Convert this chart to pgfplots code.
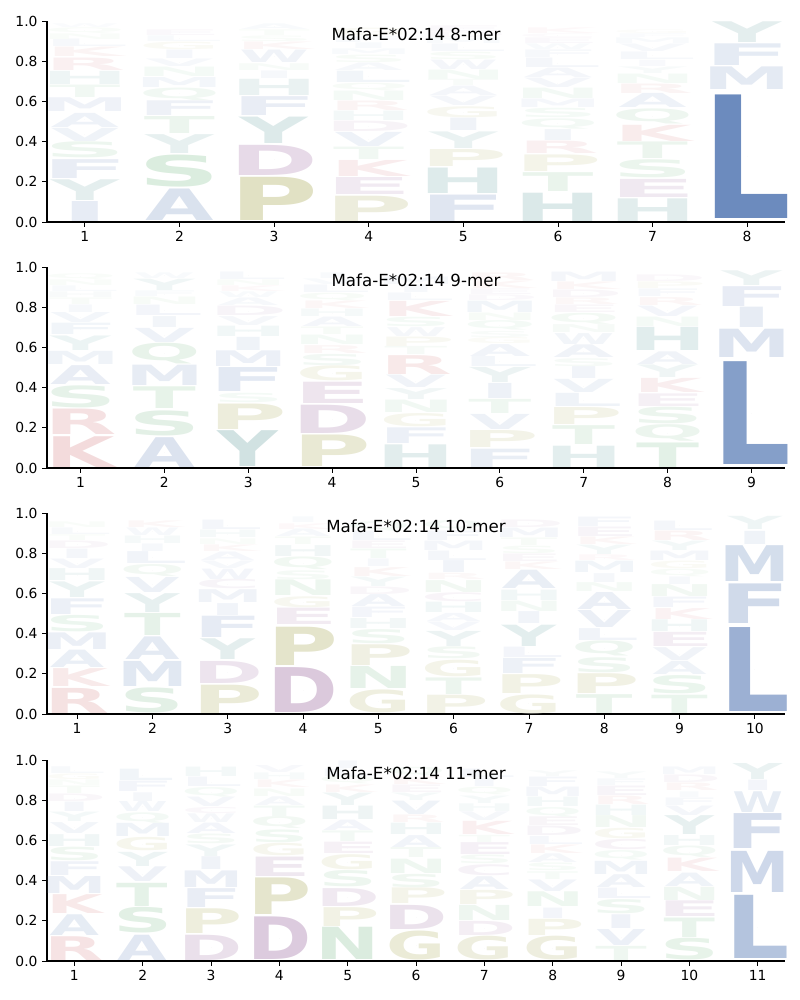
\documentclass[border=0pt]{standalone}
\usepackage{fontspec}
\setmainfont{DejaVu Sans}
\usepackage{graphicx}
\usepackage{pgfplots}
\usepackage{pgfplotstable}
\pgfplotsset{compat=1.18}

\definecolor{cblue}{RGB}{76,114,176}
\definecolor{cgreen}{RGB}{85,168,104}
\definecolor{cred}{RGB}{196,78,82}
\definecolor{cpurple}{RGB}{132,72,138}
\definecolor{colive}{RGB}{150,150,50}
\definecolor{cteal}{RGB}{60,135,135}
\colorlet{cA}{cblue}\colorlet{cF}{cblue}\colorlet{cI}{cblue}\colorlet{cL}{cblue}
\colorlet{cM}{cblue}\colorlet{cV}{cblue}\colorlet{cW}{cblue}
\colorlet{cS}{cgreen}\colorlet{cT}{cgreen}\colorlet{cN}{cgreen}\colorlet{cQ}{cgreen}
\colorlet{cK}{cred}\colorlet{cR}{cred}
\colorlet{cD}{cpurple}\colorlet{cE}{cpurple}\colorlet{cC}{cpurple}
\colorlet{cP}{colive}\colorlet{cG}{colive}
\colorlet{cH}{cteal}\colorlet{cY}{cteal}
% width factor per letter, so that every glyph's ink fills about the same width
\def\gwI{0.58}\def\gwA{0.77}\def\gwV{0.77}\def\gwY{0.77}\def\gwW{0.78}\def\gwT{0.8}
\def\gwK{0.88}\def\gwR{0.92}\def\gwS{0.92}\def\gwG{0.92}\def\gwC{0.93}\def\gwQ{0.92}

\newlength\glw
\newlength\axh \setlength\axh{141.5pt}
\newlength\gtmp
\makeatletter
\newcommand\glyph[1]{%
  \edef\gl{#1}%
  \setlength\gtmp{\lgh pt}%
  \setlength\gtmp{125\gtmp}%
  \ifdim\gtmp>100pt \setlength\gtmp{100pt}\fi
  \edef\opc{\strip@pt\gtmp}%
  \color{c\gl!\opc!white}%
  \ifcsname gw\gl\endcsname\edef\gwf{\csname gw\gl\endcsname}\else\def\gwf{1}\fi
  \resizebox*{\gwf\glw}{\lgh\axh}{\bfseries\gl}}
\makeatother

% columns: position, start flag, letter, height (stacked bottom to top)
\pgfplotstableread[row sep=\\]{
x s l h\\
1 1 I 0.106\\ 1 0 Y 0.11\\ 1 0 F 0.10\\ 1 0 S 0.085\\ 1 0 V 0.07\\ 1 0 A 0.075\\ 1 0 M 0.073\\ 1 0 T 0.066\\ 1 0 H 0.07\\ 1 0 R 0.066\\ 1 0 K 0.05\\ 1 0 L 0.04\\ 1 0 N 0.03\\ 1 0 Q 0.03\\ 1 0 W 0.02\\
2 1 A 0.167\\ 2 0 S 0.17\\ 2 0 Y 0.10\\ 2 0 T 0.09\\ 2 0 F 0.078\\ 2 0 Q 0.066\\ 2 0 M 0.053\\ 2 0 N 0.05\\ 2 0 V 0.04\\ 2 0 I 0.045\\ 2 0 G 0.04\\ 2 0 L 0.03\\ 2 0 E 0.03\\
3 1 P 0.229\\ 3 0 D 0.16\\ 3 0 Y 0.14\\ 3 0 F 0.10\\ 3 0 H 0.086\\ 3 0 I 0.04\\ 3 0 N 0.036\\ 3 0 W 0.066\\ 3 0 K 0.04\\ 3 0 S 0.03\\ 3 0 T 0.03\\ 3 0 A 0.03\\
4 1 P 0.134\\ 4 0 E 0.09\\ 4 0 K 0.085\\ 4 0 T 0.066\\ 4 0 V 0.075\\ 4 0 D 0.055\\ 4 0 H 0.05\\ 4 0 R 0.05\\ 4 0 N 0.05\\ 4 0 Q 0.04\\ 4 0 L 0.06\\ 4 0 A 0.04\\ 4 0 S 0.04\\ 4 0 M 0.03\\ 4 0 I 0.03\\ 4 0 F 0.03\\ 4 0 G 0.04\\
5 1 F 0.14\\ 5 0 H 0.135\\ 5 0 P 0.09\\ 5 0 Y 0.088\\ 5 0 I 0.066\\ 5 0 G 0.058\\ 5 0 V 0.05\\ 5 0 A 0.05\\ 5 0 T 0.033\\ 5 0 N 0.05\\ 5 0 W 0.05\\ 5 0 S 0.04\\ 5 0 L 0.04\\ 5 0 M 0.03\\ 5 0 D 0.03\\ 5 0 E 0.03\\
6 1 H 0.15\\ 6 0 T 0.10\\ 6 0 P 0.088\\ 6 0 R 0.066\\ 6 0 I 0.058\\ 6 0 Q 0.055\\ 6 0 S 0.05\\ 6 0 M 0.045\\ 6 0 N 0.055\\ 6 0 V 0.05\\ 6 0 A 0.05\\ 6 0 L 0.05\\ 6 0 F 0.04\\ 6 0 W 0.03\\ 6 0 E 0.03\\ 6 0 C 0.02\\ 6 0 K 0.03\\
7 1 H 0.12\\ 7 0 E 0.096\\ 7 0 S 0.096\\ 7 0 T 0.088\\ 7 0 K 0.086\\ 7 0 Q 0.08\\ 7 0 A 0.075\\ 7 0 R 0.05\\ 7 0 N 0.05\\ 7 0 Y 0.035\\ 7 0 I 0.033\\ 7 0 L 0.04\\ 7 0 V 0.04\\ 7 0 M 0.03\\ 7 0 F 0.02\\ 7 0 G 0.02\\
8 1 L 0.655\\ 8 0 M 0.12\\ 8 0 F 0.115\\ 8 0 Y 0.11\\
}\tA

\pgfplotstableread[row sep=\\]{
x s l h\\
1 1 K 0.163\\ 1 0 R 0.135\\ 1 0 S 0.117\\ 1 0 A 0.10\\ 1 0 M 0.07\\ 1 0 Y 0.077\\ 1 0 F 0.06\\ 1 0 V 0.053\\ 1 0 I 0.04\\ 1 0 T 0.035\\ 1 0 H 0.03\\ 1 0 L 0.03\\ 1 0 N 0.03\\ 1 0 Q 0.03\\
2 1 A 0.158\\ 2 0 S 0.133\\ 2 0 T 0.115\\ 2 0 M 0.108\\ 2 0 Q 0.11\\ 2 0 V 0.075\\ 2 0 I 0.058\\ 2 0 L 0.055\\ 2 0 N 0.04\\ 2 0 F 0.03\\ 2 0 Y 0.06\\ 2 0 W 0.03\\
3 1 Y 0.19\\ 3 0 P 0.135\\ 3 0 S 0.05\\ 3 0 F 0.127\\ 3 0 M 0.083\\ 3 0 I 0.07\\ 3 0 H 0.055\\ 3 0 V 0.047\\ 3 0 D 0.05\\ 3 0 A 0.04\\ 3 0 W 0.03\\ 3 0 K 0.03\\ 3 0 N 0.03\\ 3 0 L 0.04\\
4 1 P 0.167\\ 4 0 D 0.15\\ 4 0 E 0.113\\ 4 0 G 0.08\\ 4 0 S 0.06\\ 4 0 R 0.042\\ 4 0 N 0.05\\ 4 0 T 0.04\\ 4 0 A 0.05\\ 4 0 H 0.04\\ 4 0 K 0.04\\ 4 0 Q 0.04\\ 4 0 L 0.04\\ 4 0 V 0.03\\ 4 0 I 0.03\\
5 1 H 0.12\\ 5 0 F 0.083\\ 5 0 G 0.07\\ 5 0 N 0.066\\ 5 0 Y 0.058\\ 5 0 V 0.066\\ 5 0 R 0.10\\ 5 0 T 0.043\\ 5 0 P 0.05\\ 5 0 W 0.047\\ 5 0 S 0.05\\ 5 0 K 0.08\\ 5 0 L 0.04\\ 5 0 I 0.04\\ 5 0 M 0.04\\
6 1 F 0.097\\ 6 0 P 0.09\\ 6 0 V 0.08\\ 6 0 T 0.075\\ 6 0 I 0.08\\ 6 0 Y 0.08\\ 6 0 L 0.053\\ 6 0 A 0.063\\ 6 0 G 0.033\\ 6 0 S 0.033\\ 6 0 Q 0.05\\ 6 0 N 0.04\\ 6 0 M 0.06\\ 6 0 D 0.03\\ 6 0 E 0.03\\ 6 0 K 0.04\\ 6 0 R 0.04\\
7 1 H 0.113\\ 7 0 T 0.10\\ 7 0 P 0.09\\ 7 0 L 0.07\\ 7 0 V 0.07\\ 7 0 I 0.063\\ 7 0 S 0.042\\ 7 0 A 0.067\\ 7 0 W 0.058\\ 7 0 N 0.042\\ 7 0 Q 0.058\\ 7 0 E 0.04\\ 7 0 R 0.035\\ 7 0 D 0.04\\ 7 0 K 0.04\\ 7 0 M 0.05\\
8 1 T 0.13\\ 8 0 Q 0.088\\ 8 0 S 0.088\\ 8 0 E 0.067\\ 8 0 K 0.075\\ 8 0 Y 0.067\\ 8 0 A 0.067\\ 8 0 H 0.123\\ 8 0 N 0.05\\ 8 0 V 0.055\\ 8 0 R 0.042\\ 8 0 F 0.04\\ 8 0 P 0.035\\ 8 0 D 0.035\\
9 1 L 0.545\\ 9 0 M 0.15\\ 9 0 I 0.108\\ 9 0 F 0.105\\ 9 0 Y 0.078\\
}\tB

\pgfplotstableread[row sep=\\]{
x s l h\\
1 1 R 0.133\\ 1 0 K 0.095\\ 1 0 A 0.092\\ 1 0 M 0.088\\ 1 0 S 0.087\\ 1 0 F 0.083\\ 1 0 Y 0.083\\ 1 0 H 0.063\\ 1 0 V 0.05\\ 1 0 I 0.05\\ 1 0 D 0.04\\ 1 0 T 0.03\\ 1 0 L 0.035\\ 1 0 N 0.03\\
2 1 S 0.133\\ 2 0 M 0.133\\ 2 0 A 0.12\\ 2 0 T 0.117\\ 2 0 Y 0.10\\ 2 0 V 0.08\\ 2 0 Q 0.063\\ 2 0 L 0.063\\ 2 0 I 0.04\\ 2 0 H 0.04\\ 2 0 W 0.04\\ 2 0 K 0.035\\
3 1 P 0.15\\ 3 0 D 0.117\\ 3 0 Y 0.11\\ 3 0 F 0.113\\ 3 0 I 0.063\\ 3 0 M 0.068\\ 3 0 C 0.05\\ 3 0 W 0.055\\ 3 0 V 0.04\\ 3 0 A 0.045\\ 3 0 K 0.035\\ 3 0 N 0.03\\ 3 0 H 0.04\\ 3 0 L 0.05\\
4 1 D 0.238\\ 4 0 P 0.203\\ 4 0 E 0.087\\ 4 0 G 0.058\\ 4 0 N 0.083\\ 4 0 S 0.047\\ 4 0 Q 0.067\\ 4 0 H 0.058\\ 4 0 T 0.04\\ 4 0 A 0.04\\ 4 0 K 0.03\\ 4 0 I 0.03\\
5 1 G 0.122\\ 5 0 N 0.117\\ 5 0 P 0.11\\ 5 0 S 0.075\\ 5 0 H 0.053\\ 5 0 F 0.055\\ 5 0 A 0.063\\ 5 0 D 0.04\\ 5 0 Y 0.05\\ 5 0 K 0.047\\ 5 0 I 0.04\\ 5 0 T 0.05\\ 5 0 E 0.04\\ 5 0 L 0.05\\ 5 0 Q 0.05\\
6 1 P 0.097\\ 6 0 T 0.088\\ 6 0 G 0.088\\ 6 0 S 0.063\\ 6 0 Y 0.08\\ 6 0 V 0.045\\ 6 0 A 0.043\\ 6 0 H 0.055\\ 6 0 C 0.047\\ 6 0 N 0.063\\ 6 0 R 0.033\\ 6 0 I 0.063\\ 6 0 L 0.05\\ 6 0 M 0.05\\ 6 0 F 0.05\\ 6 0 Q 0.05\\
7 1 G 0.10\\ 7 0 P 0.10\\ 7 0 F 0.08\\ 7 0 L 0.055\\ 7 0 Y 0.113\\ 7 0 I 0.063\\ 7 0 N 0.055\\ 7 0 H 0.055\\ 7 0 A 0.097\\ 7 0 K 0.04\\ 7 0 E 0.04\\ 7 0 S 0.04\\ 7 0 T 0.04\\ 7 0 M 0.05\\ 7 0 D 0.04\\
8 1 T 0.10\\ 8 0 P 0.105\\ 8 0 S 0.08\\ 8 0 Q 0.08\\ 8 0 L 0.063\\ 8 0 V 0.09\\ 8 0 A 0.09\\ 8 0 N 0.047\\ 8 0 I 0.047\\ 8 0 M 0.06\\ 8 0 R 0.03\\ 8 0 Y 0.05\\ 8 0 K 0.04\\ 8 0 E 0.05\\ 8 0 F 0.05\\
9 1 T 0.097\\ 9 0 S 0.097\\ 9 0 A 0.07\\ 9 0 V 0.068\\ 9 0 E 0.075\\ 9 0 H 0.062\\ 9 0 K 0.058\\ 9 0 F 0.055\\ 9 0 N 0.063\\ 9 0 I 0.04\\ 9 0 Q 0.04\\ 9 0 G 0.04\\ 9 0 M 0.05\\ 9 0 Y 0.05\\ 9 0 R 0.05\\ 9 0 L 0.05\\
10 1 L 0.445\\ 10 0 F 0.21\\ 10 0 M 0.19\\ 10 0 I 0.07\\ 10 0 Y 0.07\\
}\tC

\pgfplotstableread[row sep=\\]{
x s l h\\
1 1 R 0.126\\ 1 0 A 0.11\\ 1 0 K 0.10\\ 1 0 M 0.09\\ 1 0 F 0.073\\ 1 0 S 0.072\\ 1 0 H 0.063\\ 1 0 V 0.058\\ 1 0 Y 0.05\\ 1 0 I 0.05\\ 1 0 D 0.04\\ 1 0 T 0.04\\ 1 0 N 0.03\\ 1 0 G 0.03\\ 1 0 L 0.036\\
2 1 A 0.134\\ 2 0 S 0.136\\ 2 0 T 0.123\\ 2 0 V 0.078\\ 2 0 Y 0.075\\ 2 0 G 0.071\\ 2 0 M 0.07\\ 2 0 Q 0.055\\ 2 0 W 0.053\\ 2 0 I 0.046\\ 2 0 F 0.055\\ 2 0 L 0.06\\
3 1 D 0.134\\ 3 0 P 0.131\\ 3 0 F 0.10\\ 3 0 M 0.088\\ 3 0 I 0.068\\ 3 0 Y 0.061\\ 3 0 S 0.051\\ 3 0 A 0.055\\ 3 0 W 0.046\\ 3 0 C 0.033\\ 3 0 V 0.05\\ 3 0 Q 0.05\\ 3 0 L 0.05\\ 3 0 H 0.05\\
4 1 D 0.226\\ 4 0 P 0.194\\ 4 0 E 0.103\\ 4 0 G 0.066\\ 4 0 S 0.068\\ 4 0 Q 0.063\\ 4 0 T 0.055\\ 4 0 A 0.046\\ 4 0 N 0.04\\ 4 0 K 0.04\\ 4 0 H 0.035\\ 4 0 V 0.037\\
5 1 N 0.171\\ 5 0 P 0.10\\ 5 0 D 0.095\\ 5 0 S 0.086\\ 5 0 G 0.08\\ 5 0 E 0.06\\ 5 0 T 0.056\\ 5 0 A 0.055\\ 5 0 H 0.071\\ 5 0 Y 0.066\\ 5 0 K 0.04\\ 5 0 Q 0.04\\ 5 0 L 0.04\\ 5 0 I 0.04\\
6 1 G 0.154\\ 6 0 D 0.128\\ 6 0 P 0.083\\ 6 0 S 0.071\\ 6 0 N 0.076\\ 6 0 T 0.053\\ 6 0 A 0.063\\ 6 0 H 0.06\\ 6 0 R 0.04\\ 6 0 V 0.071\\ 6 0 Y 0.04\\ 6 0 E 0.04\\ 6 0 K 0.04\\ 6 0 Q 0.046\\
7 1 G 0.126\\ 7 0 D 0.075\\ 7 0 N 0.08\\ 7 0 P 0.075\\ 7 0 A 0.068\\ 7 0 C 0.058\\ 7 0 S 0.046\\ 7 0 E 0.063\\ 7 0 T 0.038\\ 7 0 K 0.07\\ 7 0 V 0.046\\ 7 0 H 0.041\\ 7 0 Y 0.04\\ 7 0 Q 0.04\\ 7 0 I 0.045\\ 7 0 L 0.045\\
8 1 G 0.126\\ 8 0 P 0.086\\ 8 0 I 0.055\\ 8 0 N 0.078\\ 8 0 V 0.061\\ 8 0 T 0.041\\ 8 0 S 0.041\\ 8 0 A 0.046\\ 8 0 K 0.045\\ 8 0 L 0.043\\ 8 0 D 0.05\\ 8 0 E 0.046\\ 8 0 Q 0.05\\ 8 0 H 0.05\\ 8 0 M 0.05\\ 8 0 F 0.05\\ 8 0 Y 0.03\\
9 1 T 0.075\\ 9 0 V 0.085\\ 9 0 I 0.073\\ 9 0 S 0.075\\ 9 0 L 0.055\\ 9 0 A 0.068\\ 9 0 M 0.07\\ 9 0 Q 0.05\\ 9 0 C 0.055\\ 9 0 G 0.055\\ 9 0 N 0.063\\ 9 0 H 0.055\\ 9 0 R 0.045\\ 9 0 E 0.05\\ 9 0 F 0.035\\ 9 0 Y 0.035\\
10 1 S 0.115\\ 10 0 T 0.103\\ 10 0 E 0.083\\ 10 0 N 0.07\\ 10 0 A 0.071\\ 10 0 K 0.071\\ 10 0 Q 0.06\\ 10 0 H 0.053\\ 10 0 Y 0.10\\ 10 0 V 0.05\\ 10 0 F 0.04\\ 10 0 I 0.03\\ 10 0 R 0.04\\ 10 0 D 0.04\\ 10 0 M 0.04\\
11 1 L 0.335\\ 11 0 M 0.218\\ 11 0 F 0.185\\ 11 0 W 0.11\\ 11 0 I 0.055\\ 11 0 Y 0.085\\
}\tD

% cumulative top of each letter within its column
\pgfplotstablecreatecol[create col/expr accum={(1-\thisrow{s})*\pgfmathaccuma+\thisrow{h}}{0}]{top}{\tA}
\pgfplotstablecreatecol[create col/expr accum={(1-\thisrow{s})*\pgfmathaccuma+\thisrow{h}}{0}]{top}{\tB}
\pgfplotstablecreatecol[create col/expr accum={(1-\thisrow{s})*\pgfmathaccuma+\thisrow{h}}{0}]{top}{\tC}
\pgfplotstablecreatecol[create col/expr accum={(1-\thisrow{s})*\pgfmathaccuma+\thisrow{h}}{0}]{top}{\tD}

\pgfplotsset{
  logoax/.style={
    scale only axis, width=553.5pt, height=150.5pt, anchor=south west,
    ymin=0, ymax=1, ytick={0,0.2,0.4,0.6,0.8,1},
    axis lines=left, axis line style={-, line width=0.8pt},
    axis on top,
    tick align=outside, major tick length=3.6pt,
    tick style={line width=0.6pt, black},
    yticklabel style={/pgf/number format/fixed, /pgf/number format/fixed zerofill, /pgf/number format/precision=1},
    /pgf/number format/assume math mode=true,
    ticklabel style={font=\fontsize{10.4}{12}\selectfont},
    title style={at={(0.5,1)}, anchor=center, yshift=-16pt, font=\fontsize{12.5}{15}\selectfont},
    clip=false},
  logo/.style={
    only marks, mark=*, mark size=0pt, mark options={draw=none, fill=none},
    point meta=explicit symbolic,
    visualization depends on={\thisrow{h} \as \lgh},
    nodes near coords={\glyph{\pgfplotspointmeta}},
    nodes near coords style={anchor=center, inner sep=0pt, outer sep=0pt}}
}

\begin{document}
\begin{tikzpicture}
\path[use as bounding box] (0,0) rectangle (600pt,750pt);

\setlength\glw{66.7pt}
\begin{axis}[logoax, at={(35.25pt,583.5pt)}, xmin=0.6, xmax=8.4, xtick={1,...,8},
  title={Mafa-E*02:14 8-mer}]
\addplot[logo] table[x=x, y expr=\thisrow{top}-0.5*\thisrow{h}, meta=l] {\tA};
\end{axis}

\setlength\glw{59.1pt}
\begin{axis}[logoax, at={(35.25pt,399pt)}, xmin=0.6, xmax=9.4, xtick={1,...,9},
  title={Mafa-E*02:14 9-mer}]
\addplot[logo] table[x=x, y expr=\thisrow{top}-0.5*\thisrow{h}, meta=l] {\tB};
\end{axis}

\setlength\glw{53.1pt}
\begin{axis}[logoax, at={(35.25pt,214.5pt)}, xmin=0.6, xmax=10.4, xtick={1,...,10},
  title={Mafa-E*02:14 10-mer}]
\addplot[logo] table[x=x, y expr=\thisrow{top}-0.5*\thisrow{h}, meta=l] {\tC};
\end{axis}

\setlength\glw{48.2pt}
\begin{axis}[logoax, at={(35.25pt,29.25pt)}, xmin=0.6, xmax=11.4, xtick={1,...,11},
  title={Mafa-E*02:14 11-mer}]
\addplot[logo] table[x=x, y expr=\thisrow{top}-0.5*\thisrow{h}, meta=l] {\tD};
\end{axis}
\end{tikzpicture}
\end{document}
